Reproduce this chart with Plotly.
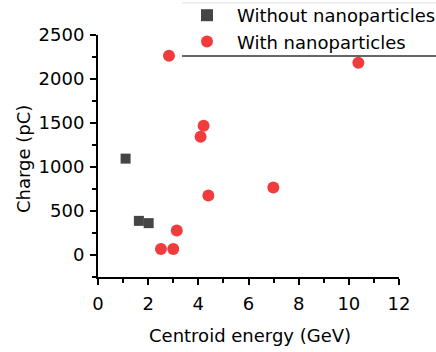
import plotly.graph_objects as go

without_x = [1.10, 1.63, 2.02]
without_y = [1095, 388, 362]
with_x = [2.83, 10.38, 4.21, 4.09, 4.40, 6.99, 3.14, 2.51, 3.00]
with_y = [2265, 2185, 1470, 1345, 675, 768, 278, 68, 68]

x_ticks = [0, 2, 4, 6, 8, 10, 12]
y_ticks = [0, 500, 1000, 1500, 2000, 2500]

FONT = "DejaVu Sans"
FS = 18
W, H = 436, 352
L, R, T, B = 98, 37, 35, 75
pw, ph = W - L - R, H - T - B

def px(xp):
    return (xp - L) / pw

def py(yp):
    return 1 - (yp - T) / ph

fig = go.Figure()
fig.add_trace(go.Scatter(x=without_x, y=without_y, mode="markers", name="Without nanoparticles",
                         marker=dict(symbol="square", size=10, color="#454545")))
fig.add_trace(go.Scatter(x=with_x, y=with_y, mode="markers", name="With nanoparticles",
                         marker=dict(symbol="circle", size=12, color="#F03C3C")))

axis_common = dict(showline=True, linecolor="black", linewidth=2, ticks="outside",
                   ticklen=6, tickwidth=2, tickcolor="black", showgrid=False, zeroline=False,
                   tickfont=dict(family=FONT, size=FS, color="black"),
                   mirror=False, automargin=False)

fig.update_layout(
    width=W, height=H,
    margin=dict(l=L, r=R, t=T, b=B, autoexpand=False),
    paper_bgcolor="white", plot_bgcolor="white",
    xaxis=dict(range=[0, 12], tickvals=x_ticks, ticklabelstandoff=3,
               minor=dict(dtick=1, ticks="outside", ticklen=4, tickwidth=2, tickcolor="black"),
               **axis_common),
    yaxis=dict(range=[-250, 2500], tickvals=y_ticks, ticklabelstandoff=2,
               minor=dict(dtick=250, ticks="outside", ticklen=4, tickwidth=2, tickcolor="black"),
               **axis_common),
    showlegend=True,
    legend=dict(x=px(177), y=py(-3), xanchor="left", yanchor="top", bgcolor="rgba(0,0,0,0)",
                font=dict(family=FONT, size=FS, color="black"),
                itemsizing="constant", tracegroupgap=0, itemwidth=50),
    annotations=[
        dict(text="Centroid energy (GeV)", xref="paper", yref="paper", x=px(250), y=py(335),
             xanchor="center", yanchor="middle", showarrow=False,
             font=dict(family=FONT, size=FS, color="black")),
        dict(text="Charge (pC)", xref="paper", yref="paper", x=px(23), y=py(159),
             xanchor="center", yanchor="middle", showarrow=False, textangle=-90,
             font=dict(family=FONT, size=FS, color="black")),
    ],
    shapes=[
        dict(type="rect", xref="paper", yref="paper", x0=px(182), x1=px(440), y0=py(56), y1=py(3),
             fillcolor="white", line=dict(width=0), layer="below"),
        dict(type="line", xref="paper", yref="paper", x0=px(182), x1=px(440), y0=py(3), y1=py(3),
             line=dict(color="#DDDDDD", width=1)),
        dict(type="line", xref="paper", yref="paper", x0=px(182), x1=px(440), y0=py(56), y1=py(56),
             line=dict(color="#333333", width=1.5)),
    ],
)

fig.write_html("out.html")
